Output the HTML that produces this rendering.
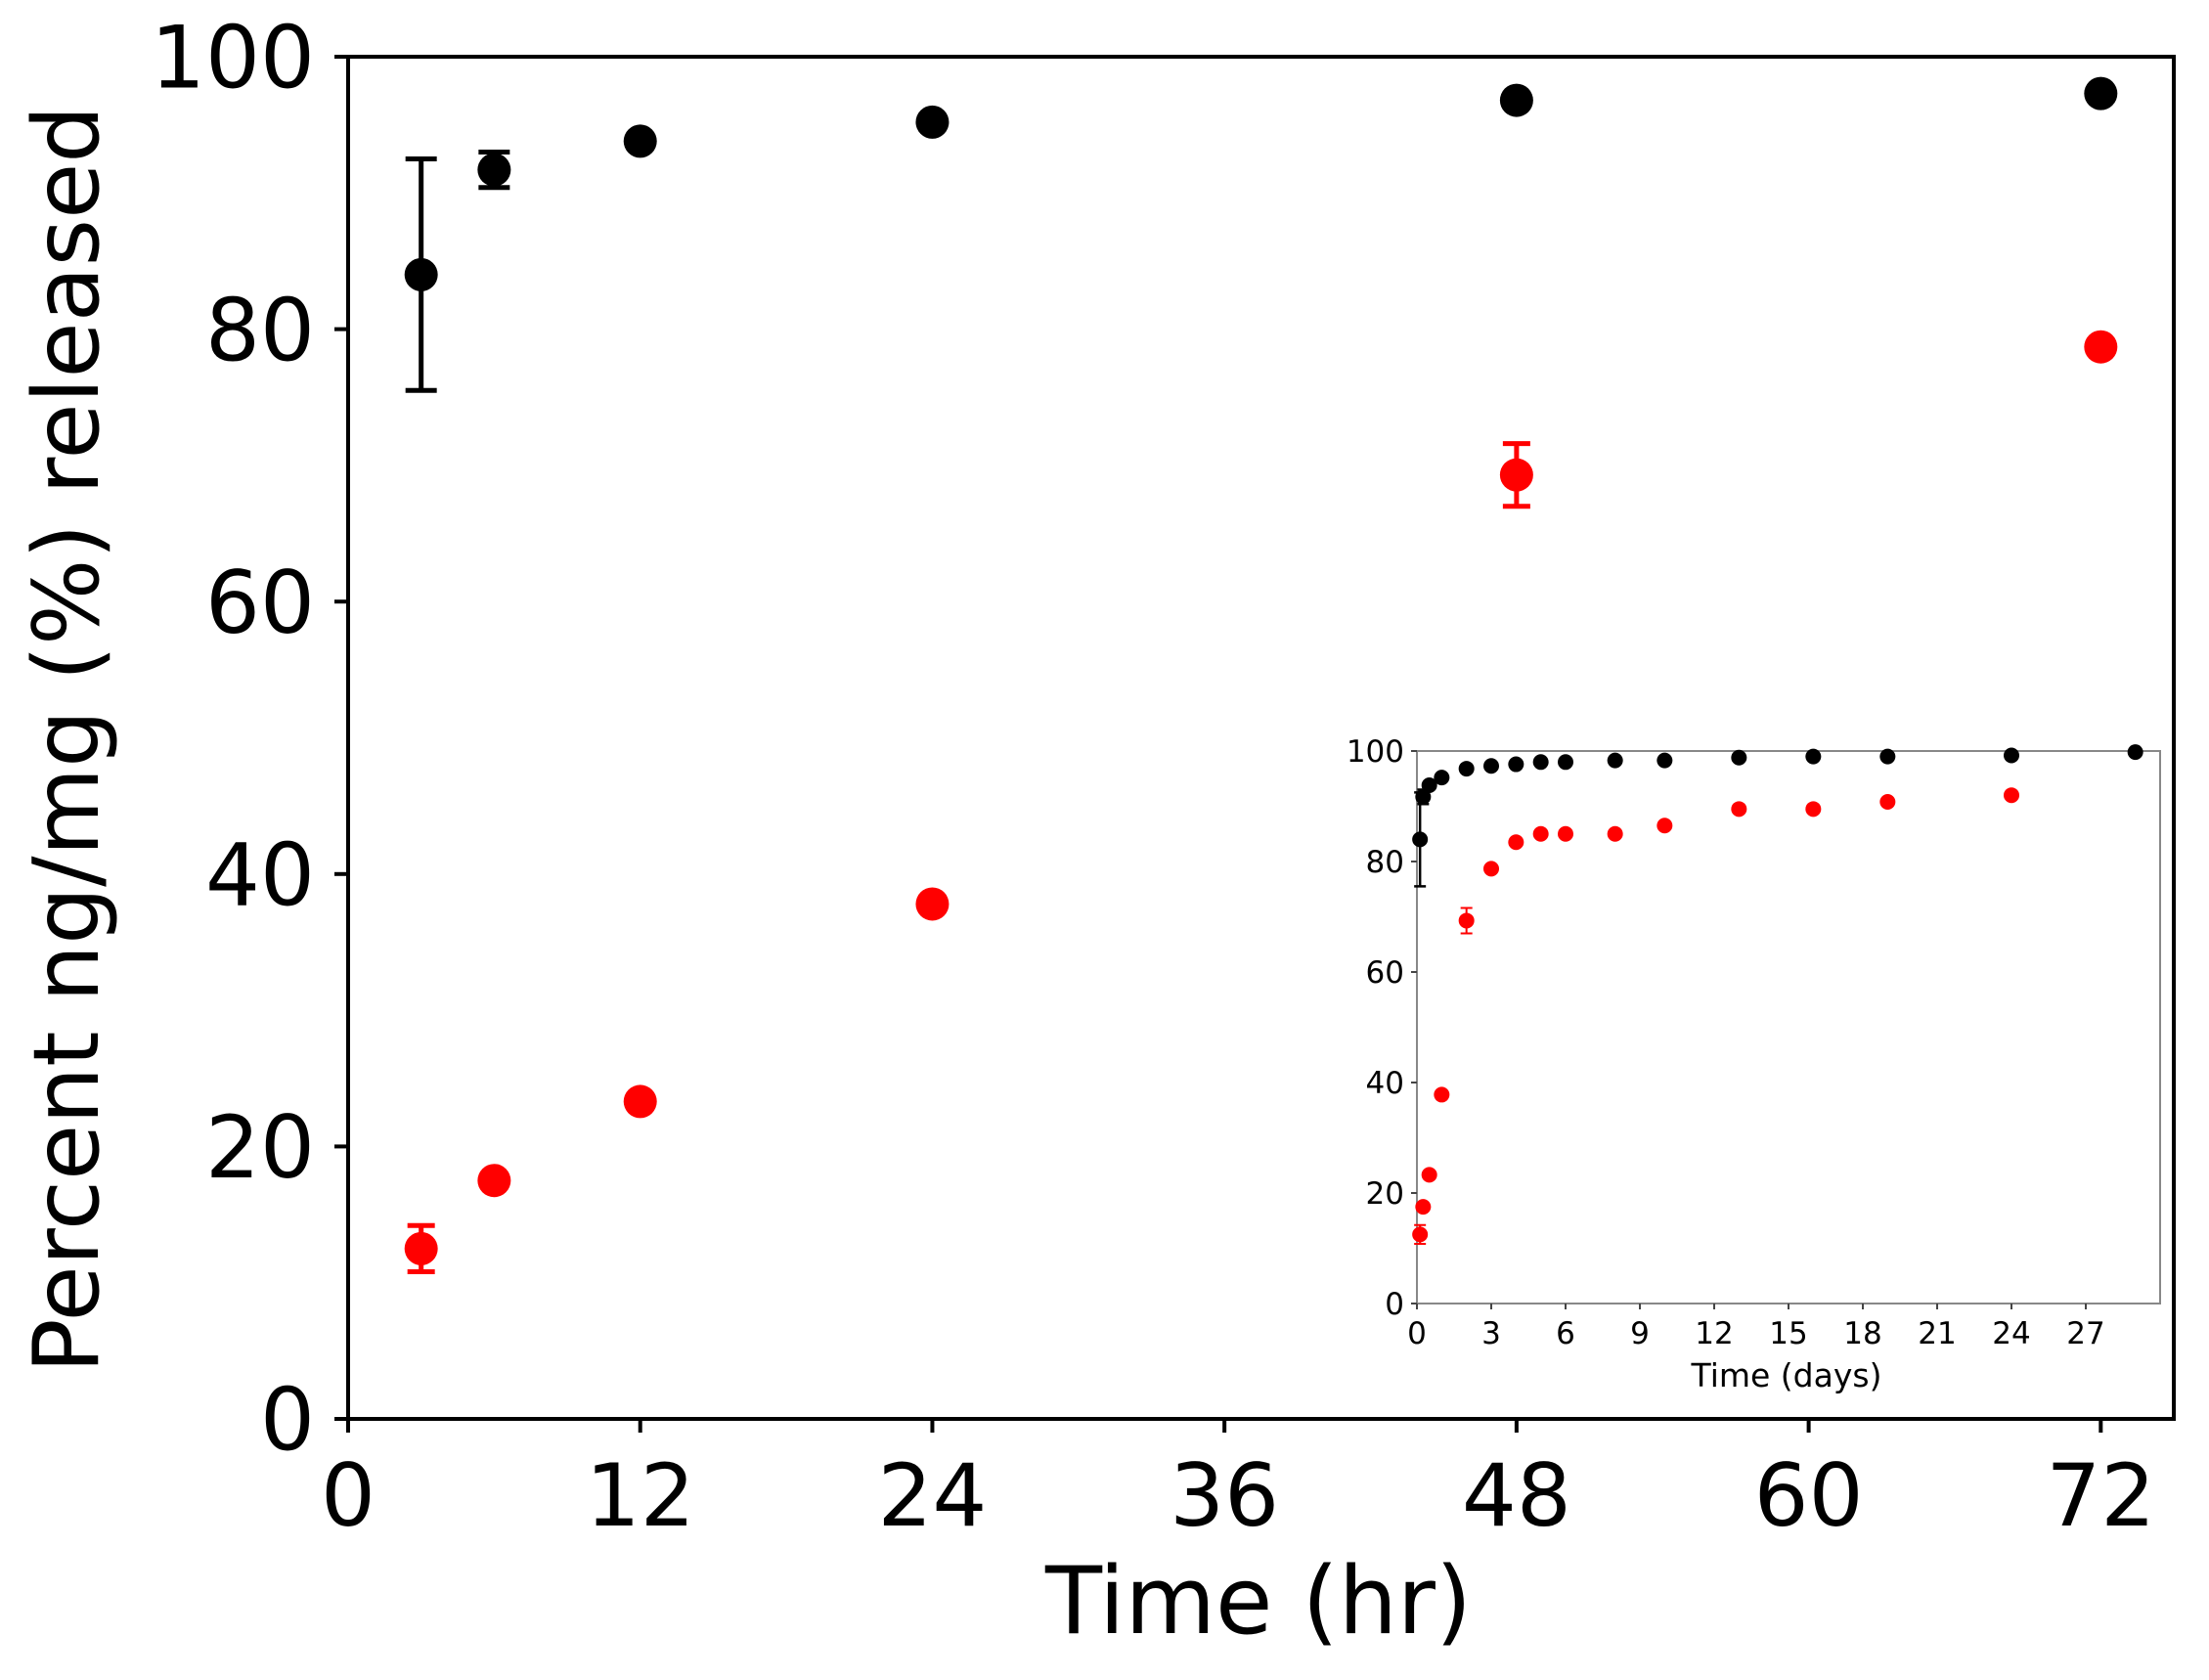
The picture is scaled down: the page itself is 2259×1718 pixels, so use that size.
<!DOCTYPE html>
<html><head><meta charset="utf-8"><style>
html,body{margin:0;padding:0;background:#fff;}
svg{display:block;font-family:"DejaVu Sans","Liberation Sans",sans-serif;}
</style></head><body>
<svg id="chart" width="2259" height="1718" viewBox="0 0 2259 1718" xmlns="http://www.w3.org/2000/svg">
<rect width="2259" height="1718" fill="#fff"/>
<g id="main"></g>
<g id="inset"></g>
</svg>
<script>
// Main chart data (hours)
const mainHours = [3, 6, 12, 24, 48, 72];
const mainBlack = [84, 91.7, 93.8, 95.2, 96.8, 97.3];
const mainBlackErr = [8.5, 1.3, 0, 0, 0, 0];
const mainRed = [12.5, 17.5, 23.3, 37.8, 69.3, 78.7];
const mainRedErr = [1.7, 0, 0, 0, 2.3, 0];
const mainXTicks = [0, 12, 24, 36, 48, 60, 72];
const mainYTicks = [0, 20, 40, 60, 80, 100];
// Inset data (days)
const insetDays = [0.125, 0.25, 0.5, 1, 2, 3, 4, 5, 6, 8, 10, 13, 16, 19, 24, 29];
const insetBlack = [84, 91.7, 93.8, 95.2, 96.8, 97.3, 97.6, 98, 98, 98.3, 98.3, 98.8, 99, 99, 99.2, 99.8];
const insetBlackErr = [8.5, 1.3, 0, 0, 0, 0, 0, 0, 0, 0, 0, 0, 0, 0, 0, 0];
const insetRedDays = [0.125, 0.25, 0.5, 1, 2, 3, 4, 5, 6, 8, 10, 13, 16, 19, 24];
const insetRed = [12.5, 17.5, 23.3, 37.8, 69.3, 78.7, 83.5, 85, 85, 85, 86.5, 89.5, 89.5, 90.8, 92];
const insetRedErr = [1.7, 0, 0, 0, 2.3, 0, 0, 0, 0, 0, 0, 0, 0, 0, 0];
const insetXTicks = [0, 3, 6, 9, 12, 15, 18, 21, 24, 27];
const insetYTicks = [0, 20, 40, 60, 80, 100];

const NS = "http://www.w3.org/2000/svg";
function mk(parent, tag, attrs, text) {
  const e = document.createElementNS(NS, tag);
  for (const k in attrs) e.setAttribute(k, attrs[k]);
  if (text !== undefined) e.textContent = text;
  parent.appendChild(e);
  return e;
}

function drawAxes(g, cfg) {
  const sx = v => cfg.l + (v - cfg.x0) / (cfg.x1 - cfg.x0) * (cfg.r - cfg.l);
  const sy = v => cfg.b - (v - cfg.y0) / (cfg.y1 - cfg.y0) * (cfg.b - cfg.t);
  const frame = mk(g, 'rect', {x: cfg.l, y: cfg.t, width: cfg.r - cfg.l, height: cfg.b - cfg.t, fill: 'none', stroke: cfg.frameColor, 'stroke-width': cfg.lw});
  
  
  cfg.xt.forEach(v => {
    const x = sx(v);
    const tk = mk(g, 'line', {x1: x, x2: x, y1: cfg.b, y2: cfg.b + cfg.tickLen, stroke: cfg.tickColor, 'stroke-width': cfg.lw});
    
    
    const tl = mk(g, 'text', {x: x, y: cfg.xLabelY, 'font-size': cfg.fs, 'text-anchor': 'middle', fill: '#000'}, String(v));
    
    
  });
  cfg.yt.forEach(v => {
    const y = sy(v);
    const tk = mk(g, 'line', {x1: cfg.l - cfg.tickLen, x2: cfg.l, y1: y, y2: y, stroke: cfg.tickColor, 'stroke-width': cfg.lw});
    
    
    const tl = mk(g, 'text', {x: cfg.yLabelX, y: y + cfg.fs * 0.36, 'font-size': cfg.fs, 'text-anchor': 'end', fill: '#000'}, String(v));
    
    
  });
  return {sx, sy};
}

function drawSeries(g, sx, sy, xs, ys, errs, color, r, cap, lw, name) {
  xs.forEach((xv, i) => {
    const x = sx(xv), y = sy(ys[i]);
    if (errs[i] > 0) {
      const y1 = sy(ys[i] + errs[i]), y2 = sy(ys[i] - errs[i]);
      const eb = mk(g, 'path', {d: `M${x},${y1}V${y2}M${x-cap},${y1}H${x+cap}M${x-cap},${y2}H${x+cap}`, stroke: color, 'stroke-width': lw, fill: 'none'});
      
      
    }
    const c = mk(g, 'circle', {cx: x, cy: y, r: r, fill: color});
    
    
  });
}

// Main
const gm = document.getElementById('main');
const m = drawAxes(gm, {l: 356, r: 2223, t: 58, b: 1451, x0: 0, x1: 75, y0: 0, y1: 100,
  xt: mainXTicks, yt: mainYTicks, fs: 88, tickLen: 14, lw: 4, frameColor: '#000', tickColor: '#000',
  xLabelY: 1560, yLabelX: 322, prefix: 'main-'});
drawSeries(gm, m.sx, m.sy, mainHours, mainBlack, mainBlackErr, '#000', 17, 16, 5, 'main-black');
drawSeries(gm, m.sx, m.sy, mainHours, mainRed, mainRedErr, '#ff0000', 17, 14, 5, 'main-red');
const xt = mk(gm, 'text', {x: 1287, y: 1670, 'font-size': 95, 'text-anchor': 'middle'}, 'Time (hr)');


const yt = mk(gm, 'text', {x: 0, y: 0, 'font-size': 93, 'text-anchor': 'middle', transform: 'translate(100,756) rotate(-90)'}, 'Percent ng/mg (%) released');



// Inset
const gi = document.getElementById('inset');
const bg = mk(gi, 'rect', {x: 1449, y: 768, width: 760, height: 565, fill: '#fff'});


const n = drawAxes(gi, {l: 1449, r: 2209, t: 768, b: 1333, x0: 0, x1: 30, y0: 0, y1: 100,
  xt: insetXTicks, yt: insetYTicks, fs: 31, tickLen: 6, lw: 2, frameColor: '#888', tickColor: '#444',
  xLabelY: 1374, yLabelX: 1436, prefix: 'inset-'});
drawSeries(gi, n.sx, n.sy, insetDays, insetBlack, insetBlackErr, '#000', 8, 6, 2.5, 'inset-black');
drawSeries(gi, n.sx, n.sy, insetRedDays, insetRed, insetRedErr, '#ff0000', 8, 6, 2, 'inset-red');
const it = mk(gi, 'text', {x: 1827, y: 1418, 'font-size': 33, 'text-anchor': 'middle'}, 'Time (days)');


</script>
</body></html>
